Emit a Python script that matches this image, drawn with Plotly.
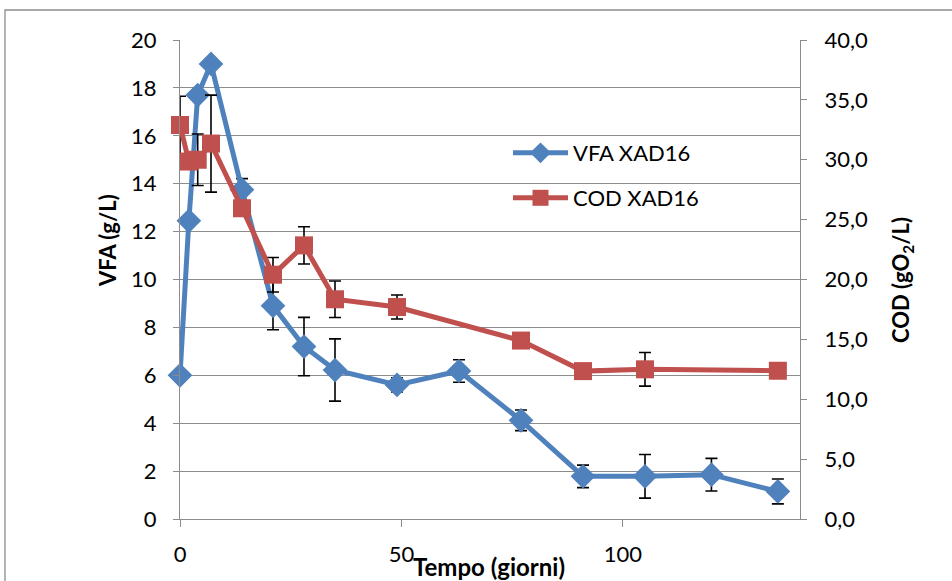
import plotly.graph_objects as go

# ---- data ----
days_vfa = [0, 2, 4, 7, 14, 21, 28, 35, 49, 63, 77, 91, 105, 120, 135]
vfa = [6.0, 12.45, 17.7, 19.0, 13.75, 8.9, 7.2, 6.22, 5.6, 6.18, 4.12, 1.78, 1.78, 1.85, 1.15]
vfa_err = [0, 0, 0, 0, 0.46, 1.0, 1.22, 1.3, 0.3, 0.47, 0.43, 0.47, 0.91, 0.68, 0.52]

days_cod = [0, 2, 4, 7, 14, 21, 28, 35, 49, 77, 91, 105, 135]
cod = [32.9, 29.85, 30.0, 31.35, 25.95, 20.4, 22.85, 18.35, 17.7, 14.9, 12.35, 12.5, 12.38]
cod_err = [2.4, 0, 2.15, 4.05, 0, 1.44, 1.56, 1.52, 1.0, 0, 0, 1.4, 0]

x_ticks = [0, 50, 100]
vfa_ticks = [0, 2, 4, 6, 8, 10, 12, 14, 16, 18, 20]
cod_ticks = [0, 5, 10, 15, 20, 25, 30, 35, 40]

name_vfa = "VFA XAD16"
name_cod = "COD XAD16"
title_x = "Tempo (giorni)"
title_y1 = "VFA (g/L)"
title_y2 = "COD (gO<sub>2</sub>/L)"

# ---- styling ----
BLUE = "#4F81BD"
RED = "#C0504D"
GRAY = "#8C8C8C"
FONT = "Lato"
FS = 22

def subset(xs, ys, es):
    idx = [i for i, e in enumerate(es) if e > 0]
    return [xs[i] for i in idx], [ys[i] for i in idx], [es[i] for i in idx]

fig = go.Figure()

ex, ey, ee = subset(days_vfa, vfa, vfa_err)
fig.add_trace(go.Scatter(
    x=ex, y=ey, mode="markers", yaxis="y",
    marker=dict(size=1, color="rgba(0,0,0,0)"),
    error_y=dict(type="data", array=ee, visible=True, color="black", thickness=1.6, width=6),
    showlegend=False, hoverinfo="skip", cliponaxis=False))

fig.add_trace(go.Scatter(
    x=days_vfa, y=vfa, name=name_vfa, mode="lines+markers", yaxis="y",
    line=dict(color=BLUE, width=5),
    marker=dict(symbol="diamond", size=19, color=BLUE),
    cliponaxis=False, legend="legend"))

cx, cy, ce = subset(days_cod, cod, cod_err)
fig.add_trace(go.Scatter(
    x=cx, y=cy, mode="markers", yaxis="y2",
    marker=dict(size=1, color="rgba(0,0,0,0)"),
    error_y=dict(type="data", array=ce, visible=True, color="black", thickness=1.6, width=6),
    showlegend=False, hoverinfo="skip", cliponaxis=False))

fig.add_trace(go.Scatter(
    x=days_cod, y=cod, name=name_cod, mode="lines+markers", yaxis="y2",
    line=dict(color=RED, width=5),
    marker=dict(symbol="square", size=18, color=RED),
    cliponaxis=False, legend="legend2"))

L, R, T, B = 180, 152, 40, 62
W, H = 952, 581
pw, ph = W - L - R, H - T - B

def px_x(px):
    return (px - L) / pw

def px_y(py):
    return (H - B - py) / ph

tick_font = dict(family=FONT, size=FS, color="black")

fig.update_layout(
    width=W, height=H,
    margin=dict(l=L, r=R, t=T, b=B),
    paper_bgcolor="white", plot_bgcolor="white",
    separators=", ",
    font=dict(family=FONT, size=FS, color="black"),
    xaxis=dict(range=[0, 140], tickvals=x_ticks, ticks="outside", ticklen=7,
               tickcolor=GRAY, tickwidth=1.3, showline=True, linecolor=GRAY, linewidth=1.3,
               showgrid=False, zeroline=False, ticklabelstandoff=8, tickfont=tick_font),
    yaxis=dict(range=[0, 20], tickvals=vfa_ticks, ticks="outside", ticklen=6,
               tickcolor=GRAY, tickwidth=1.3, showline=True, linecolor=GRAY, linewidth=1.3,
               showgrid=True, gridcolor=GRAY, gridwidth=1.3, zeroline=False,
               ticklabelstandoff=12, tickfont=tick_font),
    yaxis2=dict(range=[0, 40], tickvals=cod_ticks, tickformat=".1f", overlaying="y", side="right",
                ticks="outside", ticklen=6, tickcolor=GRAY, tickwidth=1.3,
                showline=True, linecolor=GRAY, linewidth=1.3, showgrid=False, zeroline=False,
                ticklabelstandoff=13, tickfont=tick_font),
    legend=dict(x=px_x(508), y=px_y(153), xanchor="left", yanchor="middle", itemwidth=55,
                bgcolor="rgba(0,0,0,0)", font=dict(family=FONT, size=FS, color="black")),
    legend2=dict(x=px_x(508), y=px_y(198), xanchor="left", yanchor="middle", itemwidth=55,
                 bgcolor="rgba(0,0,0,0)", font=dict(family=FONT, size=FS, color="black")),
    annotations=[
        dict(text="<b>" + title_x + "</b>", xref="paper", yref="paper",
             x=px_x(489), y=px_y(566), xanchor="center", yanchor="middle",
             showarrow=False, font=dict(family=FONT, size=24, color="black")),
        dict(text="<b>" + title_y1 + "</b>", xref="paper", yref="paper", textangle=-90,
             x=px_x(107), y=px_y(241), xanchor="center", yanchor="middle",
             showarrow=False, font=dict(family=FONT, size=FS, color="black")),
        dict(text="<b>" + title_y2 + "</b>", xref="paper", yref="paper", textangle=-90,
             x=px_x(902), y=px_y(280), xanchor="center", yanchor="middle",
             showarrow=False, font=dict(family=FONT, size=FS, color="black")),
    ],
    shapes=[dict(type="rect", xref="paper", yref="paper",
                 x0=px_x(5), x1=px_x(980), y0=px_y(620), y1=px_y(10),
                 line=dict(color=GRAY, width=1.3), layer="below")],
)

fig.write_html("out.html", config={"displayModeBar": False})
